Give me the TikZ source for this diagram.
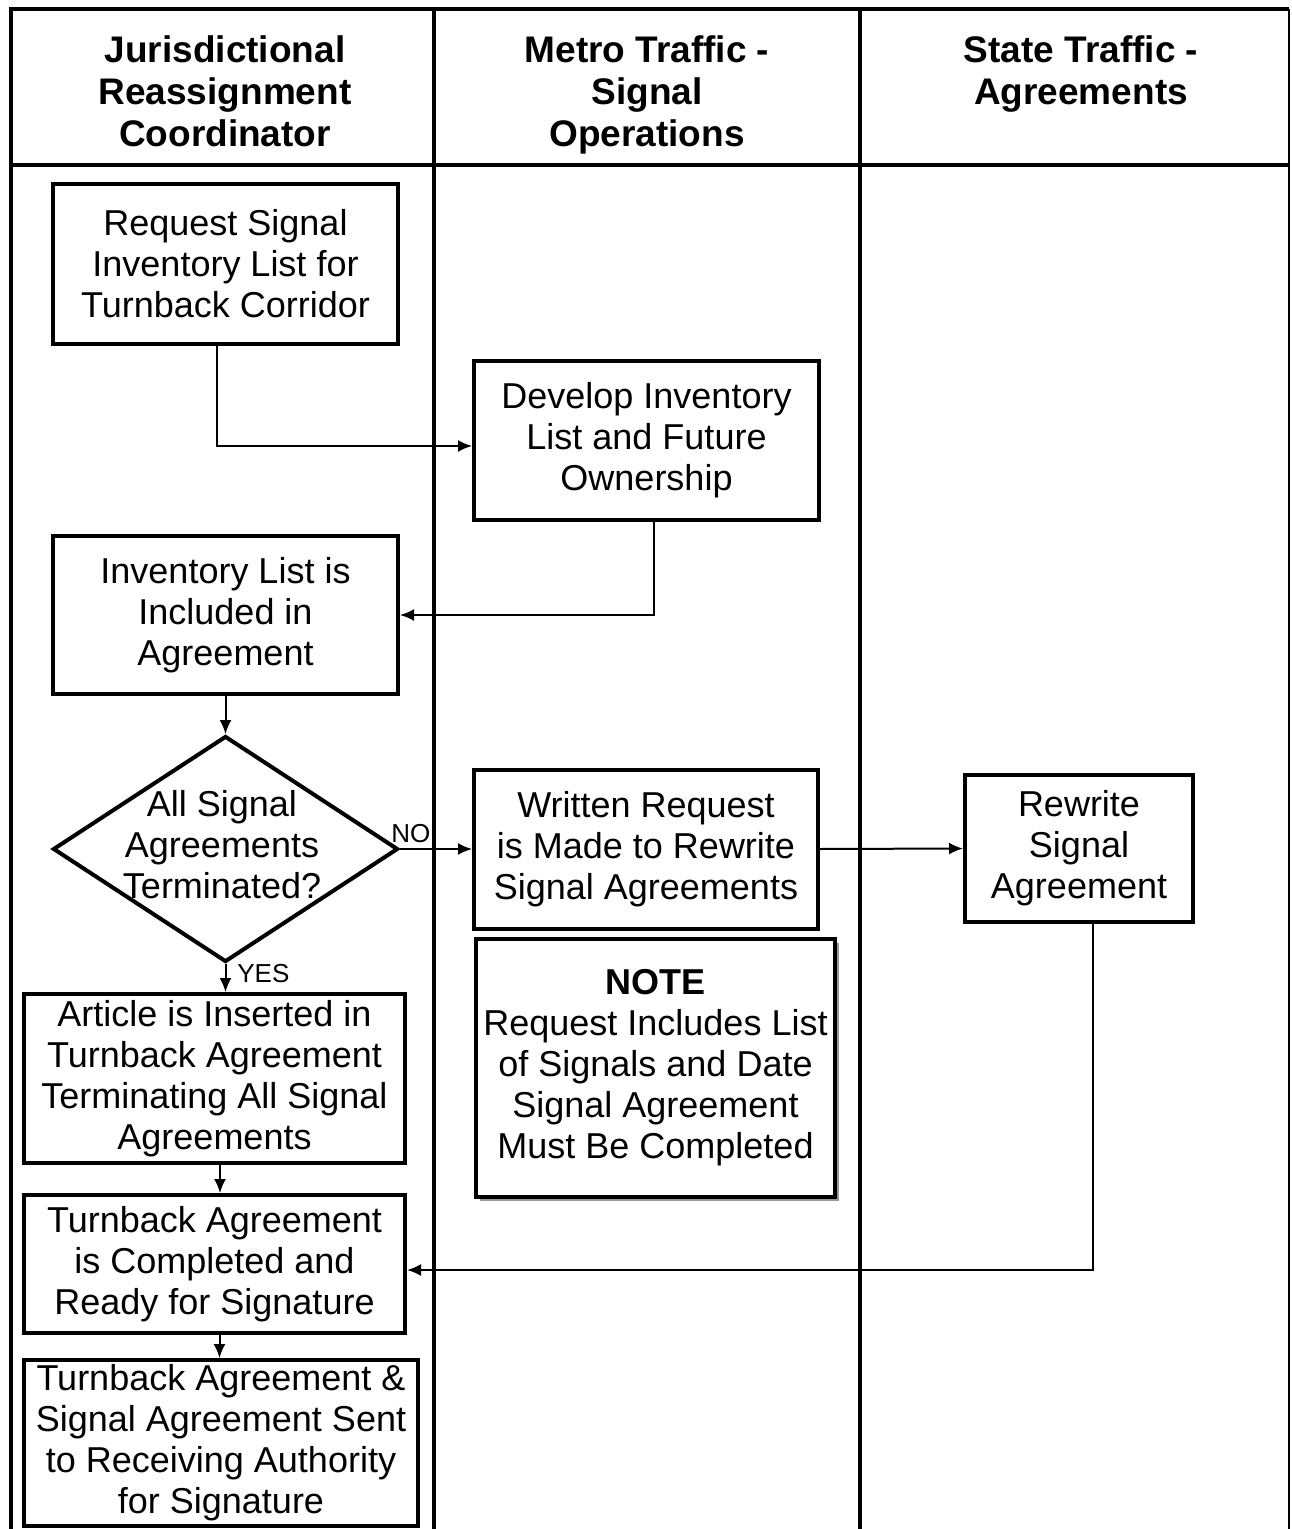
\documentclass[tikz,border=0pt]{standalone}
\usepackage{fontspec}
\setmainfont{Liberation Sans}
\usetikzlibrary{shapes.geometric,arrows.meta,calc,shadows}
\newcommand\myBody{\fontsize{18pt}{20.5pt}\selectfont}
\newcommand\myHead{\fontsize{18.5pt}{21pt}\selectfont\bfseries}
\newcommand\myLbl{\fontsize{13pt}{15pt}\selectfont}
\begin{document}
\begin{tikzpicture}[x=0.5pt,y=-0.5pt,
  frame/.style={line width=2pt},
  thinframe/.style={line width=1pt},
  box/.style={draw, line width=2pt, inner sep=0pt, align=center, font=\myBody, fill=white},
  dia/.style={draw, diamond, line width=2pt, inner sep=0pt},
  txt/.style={align=center, font=\myBody, inner sep=0pt},
  arr/.style={line width=1pt, -{Latex[length=7pt,width=6pt]}},
  head/.style={font=\myHead, align=center, anchor=north, inner sep=0pt},
  lbl/.style={font=\myLbl, inner sep=0pt, anchor=base west}]
\useasboundingbox (0,0) rectangle (1291,1529);
% frame and lanes
\draw[frame] (11,1529) -- (11,9) -- (1289,9);
\draw[thinframe] (1289,9) -- (1289,1529);
\draw[frame] (11,165) -- (1289,165);
\draw[frame] (434,9) -- (434,1529);
\draw[frame] (860,9) -- (860,1529);
% headers
\node[head] (h1) at (225,35) {Jurisdictional\\Reassignment\\Coordinator};
\node[head] (h2) at (647,35) {Metro Traffic -\\Signal\\Operations};
\node[head] (h3) at (1081,35) {State Traffic -\\Agreements};
% boxes
\node[box, minimum width=172.5pt, minimum height=80pt] (b1) at (225.5,264) {Request Signal\\Inventory List for\\Turnback Corridor};
\node[box, minimum width=172.5pt, minimum height=79.5pt] (b2) at (646.5,440.5) {Develop Inventory\\List and Future\\Ownership};
\node[box, minimum width=172.5pt, minimum height=79pt] (b3) at (225.5,615) {Inventory List is\\Included in\\Agreement};
\node[dia, minimum width=172.5pt, minimum height=113pt] (d) at (225.5,849) {};
\node[txt] (dt) at (222,845) {All Signal\\Agreements\\Terminated?};
\node[box, minimum width=172pt, minimum height=79.5pt] (b4) at (646,849) {Written Request\\is Made to Rewrite\\Signal Agreements};
\node[box, minimum width=114pt, minimum height=73.5pt] (b5) at (1079,848.5) {Rewrite\\Signal\\Agreement};
\node[box, minimum width=179.5pt, minimum height=129pt, drop shadow={shadow xshift=2pt, shadow yshift=-2pt, fill=black!40, opacity=1}] (note) at (655.5,1068) {\textbf{NOTE}\\Request Includes List\\of Signals and Date\\Signal Agreement\\Must Be Completed};
\node[box, minimum width=190.5pt, minimum height=84.5pt] (b6) at (214.5,1078.5) {Article is Inserted in\\Turnback Agreement\\Terminating All Signal\\Agreements};
\node[box, minimum width=190.5pt, minimum height=69pt] (b7) at (214.5,1264) {Turnback Agreement\\is Completed and\\Ready for Signature};
\node[box, minimum width=197pt, minimum height=83pt] (b8) at (221,1443) {Turnback Agreement \&\\Signal Agreement Sent\\to Receiving Authority\\for Signature};
% labels
\node[lbl] (no) at (391,842) {NO};
\node[lbl] (yes) at (237,982) {YES};
% connectors
\draw[arr] ($(b1.south)+(-8.5,0)$) |- ($(b2.west)+(0,5.5)$);
\draw[arr] ($(b2.south)+(7.5,0)$) |- (b3.east);
\draw[arr] (b3.south) -- (d.north);
\draw[arr] (d.east) -- (b4.west);
\draw[arr] (b4.east) -- (b5.west);
\draw[arr] (d.south) -- (d.south |- b6.north);
\draw[arr] ($(b6.south)+(5.5,0)$) -- ($(b7.north)+(5.5,0)$);
\draw[arr] ($(b7.south)+(5,0)$) -- ($(b8.north)+(-1.5,0)$);
\draw[arr] ($(b5.south)+(14,0)$) |- ($(b7.east)+(0,6)$);
\end{tikzpicture}
\end{document}
